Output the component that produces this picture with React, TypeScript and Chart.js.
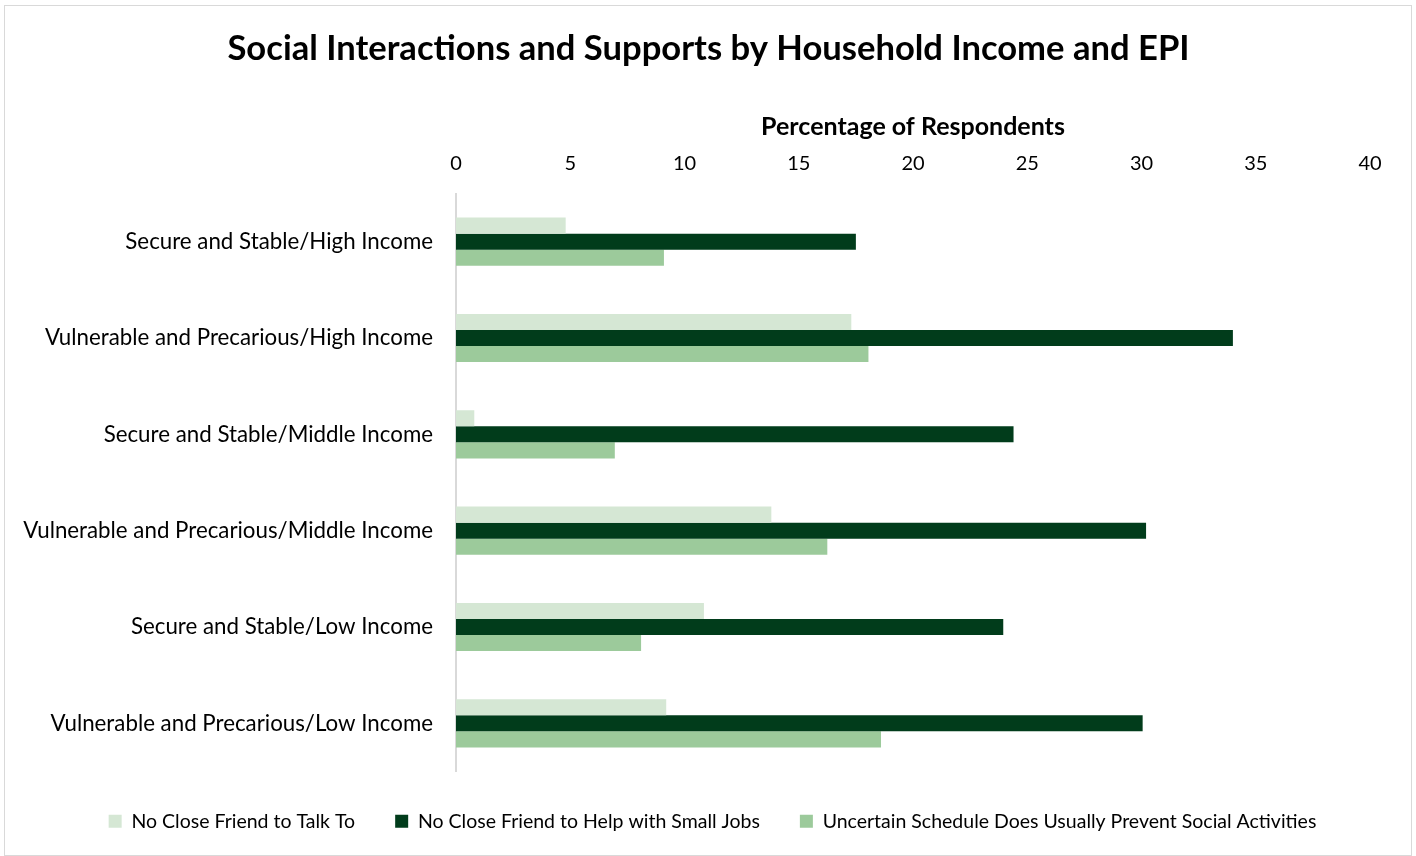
import React, { useEffect, useRef } from "react";
import { Chart, registerables } from "chart.js";

Chart.register(...registerables);

const categories = [
  "Secure and Stable/High Income",
  "Vulnerable and Precarious/High Income",
  "Secure and Stable/Middle Income",
  "Vulnerable and Precarious/Middle Income",
  "Secure and Stable/Low Income",
  "Vulnerable and Precarious/Low Income",
];

const noFriendTalk = [4.8, 17.3, 0.8, 13.8, 10.85, 9.2];
const noFriendHelp = [17.5, 34.0, 24.4, 30.2, 23.95, 30.05];
const uncertainSchedule = [9.1, 18.05, 6.95, 16.25, 8.1, 18.6];

const seriesNames = [
  "No Close Friend to Talk To",
  "No Close Friend to Help with Small Jobs",
  "Uncertain Schedule Does Usually Prevent Social Activities",
];

const FONT = "Lato, 'Open Sans', sans-serif";

// shifts the title and legend boxes sideways so they centre like the reference
const centerShift = {
  id: "centerShift",
  afterLayout(chart: any) {
    const t = chart.titleBlock;
    if (t) {
      t.left += 21;
      t.right += 21;
    }
    const l = chart.legend;
    if (l) {
      l.left += 25;
      l.right += 25;
    }
  },
};

export default function App() {
  const ref = useRef<HTMLCanvasElement | null>(null);

  useEffect(() => {
    if (!ref.current) return;
    const chart = new Chart(ref.current, {
      type: "bar",
      data: {
        labels: categories,
        datasets: [
          { label: seriesNames[0], data: noFriendTalk, backgroundColor: "#d5e7d4" },
          { label: seriesNames[1], data: noFriendHelp, backgroundColor: "#013c1b" },
          { label: seriesNames[2], data: uncertainSchedule, backgroundColor: "#9cca9b" },
        ],
      },
      plugins: [centerShift],
      options: {
        indexAxis: "y",
        responsive: false,
        animation: false,
        maintainAspectRatio: false,
        layout: { padding: { left: 0, right: 41, top: 10, bottom: 14 } },
        datasets: { bar: { categoryPercentage: 0.5, barPercentage: 1.0 } },
        scales: {
          x: {
            position: "top",
            min: 0,
            max: 40,
            ticks: { stepSize: 5, color: "#000", font: { family: FONT, size: 20 }, padding: 10 },
            grid: { display: false },
            border: { display: false },
            title: {
              display: true,
              text: "Percentage of Respondents",
              color: "#000",
              font: { family: FONT, size: 25, weight: "bold" },
              padding: { top: 0, bottom: 0 },
            },
          },
          y: {
            ticks: { color: "#000", font: { family: FONT, size: 22.3 }, padding: 15 },
            grid: { display: false },
            border: { display: true, color: "#d9d9d9", width: 2 },
            afterFit: (s: any) => {
              s.width = 451;
            },
          },
        },
        plugins: {
          title: {
            display: true,
            text: "Social Interactions and Supports by Household Income and EPI",
            color: "#000",
            font: { family: FONT, size: 34.6, weight: "bold" },
            padding: { top: 12, bottom: 42 },
          },
          legend: {
            position: "bottom",
            labels: {
              color: "#000",
              font: { family: FONT, size: 19.5 },
              boxWidth: 13,
              boxHeight: 13,
              padding: 40,
            },
          },
          tooltip: { enabled: false },
        },
      },
    });
    return () => chart.destroy();
  }, []);

  return (
    <div
      style={{
        position: "fixed",
        left: 4,
        top: 5,
        width: 1406,
        height: 849,
        border: "1px solid #d9d9d9",
        background: "#fff",
      }}
    >
      <canvas ref={ref} width={1406} height={849} style={{ display: "block" }} />
    </div>
  );
}
